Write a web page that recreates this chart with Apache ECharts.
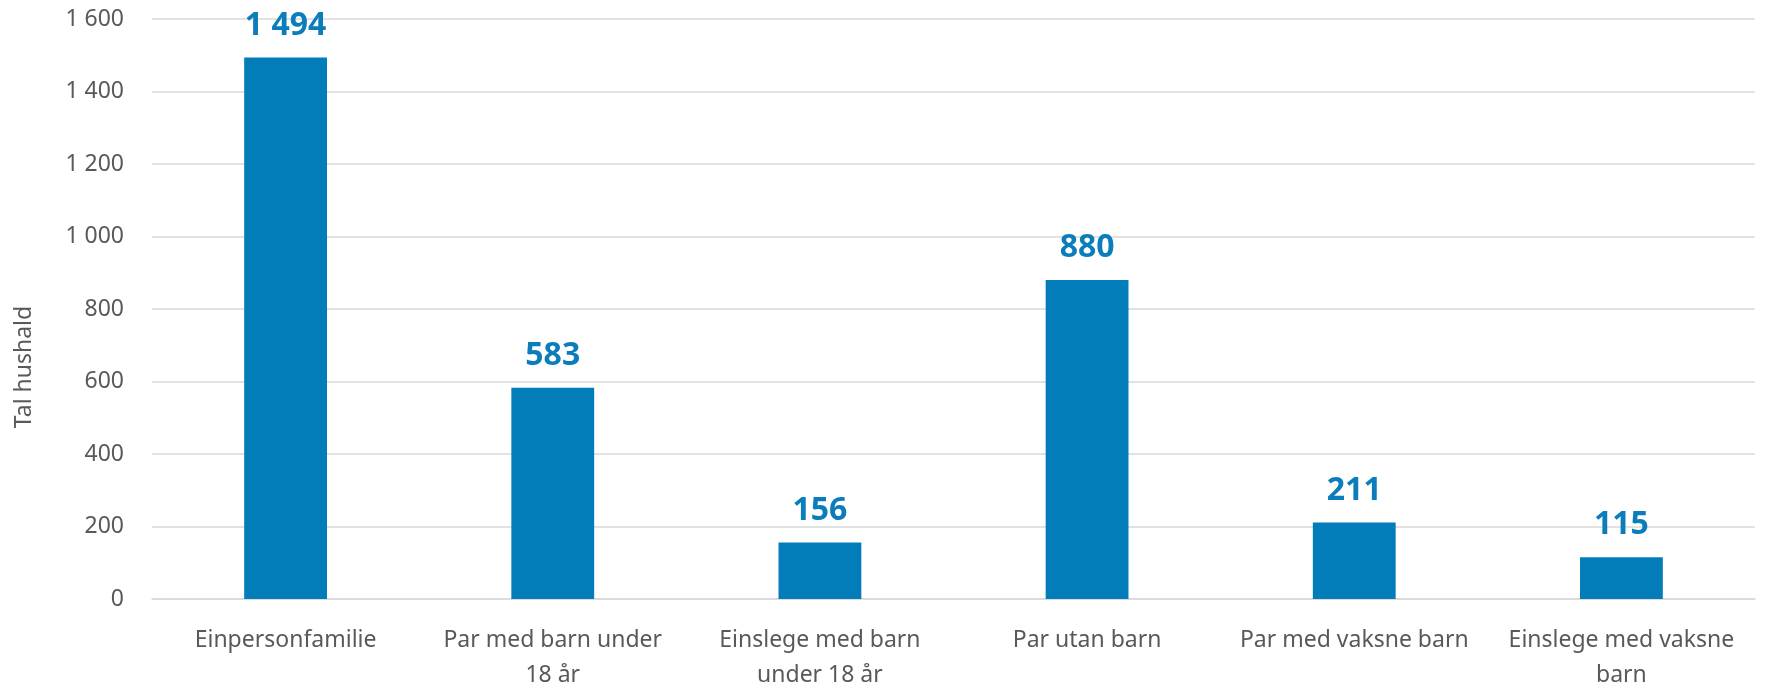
<!DOCTYPE html>
<html>
<head>
<meta charset="utf-8">
<script src="https://cdn.jsdelivr.net/npm/echarts@6/dist/echarts.min.js"></script>
<style>
  html, body { margin: 0; padding: 0; background: #fff; }
  #chart { width: 1765px; height: 684px; }
</style>
</head>
<body>
<div id="chart"></div>
<script>
const categories = [
  'Einpersonfamilie',
  'Par med barn under\n18 år',
  'Einslege med barn\nunder 18 år',
  'Par utan barn',
  'Par med vaksne barn',
  'Einslege med vaksne\nbarn'
]
const values = [1494, 583, 156, 880, 211, 115]
const yTicks = { min: 0, max: 1600, interval: 200 }

const THEME = {
  bar: '#027dba', label: '#0a7dba', text: '#595959', grid: '#d9d9d9'
}
const FONT = '"Noto Sans", sans-serif'

// tusenskilje med mellomrom
const fmt = v => String(v).replace(/\B(?=(\d{3})+(?!\d))/g, ' ')

const chart = echarts.init(document.getElementById('chart'), null, { renderer: 'canvas' })

chart.setOption({
  animation: false,
  backgroundColor: '#fff',
  textStyle: { fontFamily: FONT },
  grid: { left: 152, right: 10, top: 19, bottom: 85, outerBoundsMode: 'none' },
  xAxis: {
    type: 'category',
    data: categories,
    axisLine: { lineStyle: { color: THEME.grid, width: 1.5 } },
    axisTick: { show: false },
    axisLabel: { color: THEME.text, fontSize: 23, fontFamily: FONT, interval: 0, margin: 24, lineHeight: 35 }
  },
  yAxis: {
    type: 'value',
    min: yTicks.min,
    max: yTicks.max,
    interval: yTicks.interval,
    name: 'Tal hushald',
    nameLocation: 'middle',
    nameGap: 116,
    nameTextStyle: { color: THEME.text, fontSize: 23, fontFamily: FONT, padding: [0, 116, 0, 0] },
    axisLine: { show: false },
    axisTick: { show: false },
    axisLabel: { color: THEME.text, fontSize: 23, fontFamily: FONT, margin: 28, formatter: fmt },
    splitLine: { lineStyle: { color: THEME.grid, width: 1.5 } }
  },
  series: [
    {
      type: 'bar',
      data: values,
      barWidth: '31%',
      itemStyle: { color: THEME.bar },
      label: {
        show: true,
        position: 'top',
        distance: 16,
        color: THEME.label,
        fontSize: 32,
        fontWeight: 'bold',
        fontFamily: FONT,
        formatter: p => fmt(p.value)
      }
    }
  ]
})
</script>
</body>
</html>
